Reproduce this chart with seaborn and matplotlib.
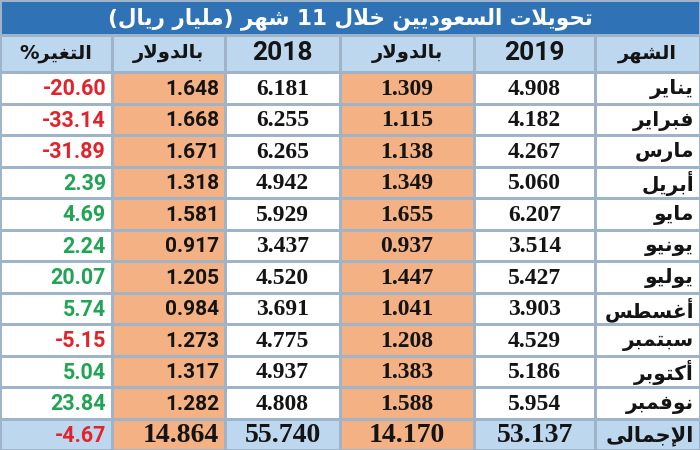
import re
import numpy as np
import pandas as pd
import matplotlib
matplotlib.use("Agg")
import matplotlib.pyplot as plt
from matplotlib.colors import ListedColormap
import seaborn as sns

# ---------------- data ----------------
title = "تحويلات السعوديين خلال 11 شهر (مليار ريال)"
headers = ["التغير%", "بالدولار", "2018", "بالدولار", "2019", "الشهر"]
months = ["يناير", "فبراير", "مارس", "أبريل", "مايو", "يونيو",
          "يوليو", "أغسطس", "سبتمبر", "أكتوبر", "نوفمبر"]
total_label = "الإجمالى"
v2019 = [4.908, 4.182, 4.267, 5.060, 6.207, 3.514, 5.427, 3.903, 4.529, 5.186, 5.954]
usd2019 = [1.309, 1.115, 1.138, 1.349, 1.655, 0.937, 1.447, 1.041, 1.208, 1.383, 1.588]
v2018 = [6.181, 6.255, 6.265, 4.942, 5.929, 3.437, 4.520, 3.691, 4.775, 4.937, 4.808]
usd2018 = [1.648, 1.668, 1.671, 1.318, 1.581, 0.917, 1.205, 0.984, 1.273, 1.317, 1.282]
pct = [-20.60, -33.14, -31.89, 2.39, 4.69, 2.24, 20.07, 5.74, -5.15, 5.04, 23.84]
tot_v2019, tot_usd2019, tot_v2018, tot_usd2018, tot_pct = 53.137, 14.170, 55.740, 14.864, -4.67

# ---------------- arabic shaping (presentation forms + visual order) ----------------
FORMS = {
    'ا': ('\uFE8D', '\uFE8E', None, None), 'أ': ('\uFE83', '\uFE84', None, None),
    'إ': ('\uFE87', '\uFE88', None, None), 'ب': ('\uFE8F', '\uFE90', '\uFE91', '\uFE92'),
    'ت': ('\uFE95', '\uFE96', '\uFE97', '\uFE98'), 'ج': ('\uFE9D', '\uFE9E', '\uFE9F', '\uFEA0'),
    'ح': ('\uFEA1', '\uFEA2', '\uFEA3', '\uFEA4'), 'خ': ('\uFEA5', '\uFEA6', '\uFEA7', '\uFEA8'),
    'د': ('\uFEA9', '\uFEAA', None, None), 'ر': ('\uFEAD', '\uFEAE', None, None),
    'س': ('\uFEB1', '\uFEB2', '\uFEB3', '\uFEB4'), 'ش': ('\uFEB5', '\uFEB6', '\uFEB7', '\uFEB8'),
    'ط': ('\uFEC1', '\uFEC2', '\uFEC3', '\uFEC4'), 'ع': ('\uFEC9', '\uFECA', '\uFECB', '\uFECC'),
    'غ': ('\uFECD', '\uFECE', '\uFECF', '\uFED0'), 'ف': ('\uFED1', '\uFED2', '\uFED3', '\uFED4'),
    'ك': ('\uFED9', '\uFEDA', '\uFEDB', '\uFEDC'), 'ل': ('\uFEDD', '\uFEDE', '\uFEDF', '\uFEE0'),
    'م': ('\uFEE1', '\uFEE2', '\uFEE3', '\uFEE4'), 'ن': ('\uFEE5', '\uFEE6', '\uFEE7', '\uFEE8'),
    'ه': ('\uFEE9', '\uFEEA', '\uFEEB', '\uFEEC'), 'و': ('\uFEED', '\uFEEE', None, None),
    'ى': ('\uFEEF', '\uFEF0', None, None), 'ي': ('\uFEF1', '\uFEF2', '\uFEF3', '\uFEF4'),
    'لا': ('\uFEFB', '\uFEFC', None, None), 'لأ': ('\uFEF7', '\uFEF8', None, None),
    'لإ': ('\uFEF9', '\uFEFA', None, None),
}


def shape(s):
    toks, i = [], 0
    while i < len(s):
        if s[i] == 'ل' and i + 1 < len(s) and s[i + 1] in 'اأإ':
            toks.append(s[i:i + 2]); i += 2
        else:
            toks.append(s[i]); i += 1
    out = []
    for k, t in enumerate(toks):
        if t not in FORMS:
            out.append(t); continue
        f = FORMS[t]
        prev = toks[k - 1] if k > 0 else None
        nxt = toks[k + 1] if k + 1 < len(toks) else None
        jp = prev in FORMS and FORMS[prev][2] is not None
        jn = f[2] is not None and nxt in FORMS
        out.append(f[3] if (jp and jn) else f[1] if jp else f[2] if jn else f[0])
    return ''.join(out)


def vis(s):
    if s.endswith('%'):
        return '%' + vis(s[:-1])
    if not re.search('[\u0600-\u06FF]', s):
        return s
    parts = re.findall(r'[0-9.]+|[^0-9.]', shape(s))[::-1]
    mirror = {'(': ')', ')': '('}
    return ''.join(mirror.get(p, p) for p in parts)


# ---------------- style ----------------
sns.set_theme(style="white")
plt.rcParams['font.family'] = ['DejaVu Sans']

BLUE = '#2f72b6'
LIGHT = '#bdd7ee'
ORANGE = '#f4b183'
WHITE = '#ffffff'
GRID = '#9fb3c9'
RED = '#e3232b'
GREEN = '#22a455'
INK = '#141414'
cmap = ListedColormap([WHITE, ORANGE, LIGHT, BLUE])

W, H = 700, 450
col_edges = [0, 112, 225, 340, 474, 595, 700]
title_bot, head_bot = 35, 72

fig = plt.figure(figsize=(7, 4.5), dpi=100)


def add_ax(x0, x1, ytop, ybot):
    return fig.add_axes([x0 / W, 1 - ybot / H, (x1 - x0) / W, (ybot - ytop) / H])


def heat(ax, codes):
    sns.heatmap(pd.DataFrame(codes), ax=ax, cmap=cmap, vmin=-0.5, vmax=3.5, cbar=False,
                linewidths=1.0, linecolor=GRID, xticklabels=False, yticklabels=False)
    ax.set_xlabel(''); ax.set_ylabel('')


# title row
ax_t = add_ax(0, W, 0, title_bot)
heat(ax_t, [[3]])
ax_t.text(0.5, 0.52, vis(title), color='white', ha='center', va='center',
          fontsize=15.5, fontweight='bold', family=['DejaVu Sans'])

SANS = ['Roboto', 'DejaVu Sans']
SERIF = ['Liberation Serif', 'DejaVu Serif']
AR = ['DejaVu Sans']

columns = [
    # (values, total, code, font, align, fmt)
    (pct, tot_pct, 0, SANS, 'right', '{:.2f}'),
    (usd2018, tot_usd2018, 1, SANS, 'right', '{:.3f}'),
    (v2018, tot_v2018, 0, SERIF, 'center', '{:.3f}'),
    (usd2019, tot_usd2019, 1, SERIF, 'center', '{:.3f}'),
    (v2019, tot_v2019, 0, SERIF, 'center', '{:.3f}'),
    (months, total_label, 0, AR, 'right', None),
]

for j, (vals, tot, code, fam, align, fmt) in enumerate(columns):
    x0, x1 = col_edges[j], col_edges[j + 1]
    w = x1 - x0
    # header
    axh = add_ax(x0, x1, title_bot, head_bot)
    heat(axh, [[2]])
    htxt = headers[j]
    is_ar = bool(re.search('[\u0600-\u06FF]', htxt))
    axh.text(0.5, 0.5, vis(htxt), ha='center', va='center', color=INK,
             fontsize=14 if is_ar else 19, fontweight='bold',
             family=AR if is_ar else SANS)
    # body
    axb = add_ax(x0, x1, head_bot, H)
    codes = [[code] for _ in vals] + [[1 if code == 1 else 2]]
    heat(axb, codes)
    xpos = (1 - 6 / w) if align == 'right' else 0.5
    for i, v in enumerate(list(vals) + [tot]):
        is_tot = i == len(vals)
        if fmt is None:
            s = vis(v); f = AR; fs = 14.5 if not is_tot else 15; col = INK
        else:
            s = fmt.format(v)
            col = INK
            if j == 0:
                col = RED if v < 0 else GREEN
                f = SANS; fs = 15.5
            elif is_tot:
                f = SERIF; fs = 20
            else:
                f = fam; fs = 15 if fam is SANS else 17
        axb.text(xpos, i + 0.55, s, ha=align, va='center', color=col,
                 fontsize=fs, fontweight='bold', family=f)

fig.savefig('out.png', dpi=100)
